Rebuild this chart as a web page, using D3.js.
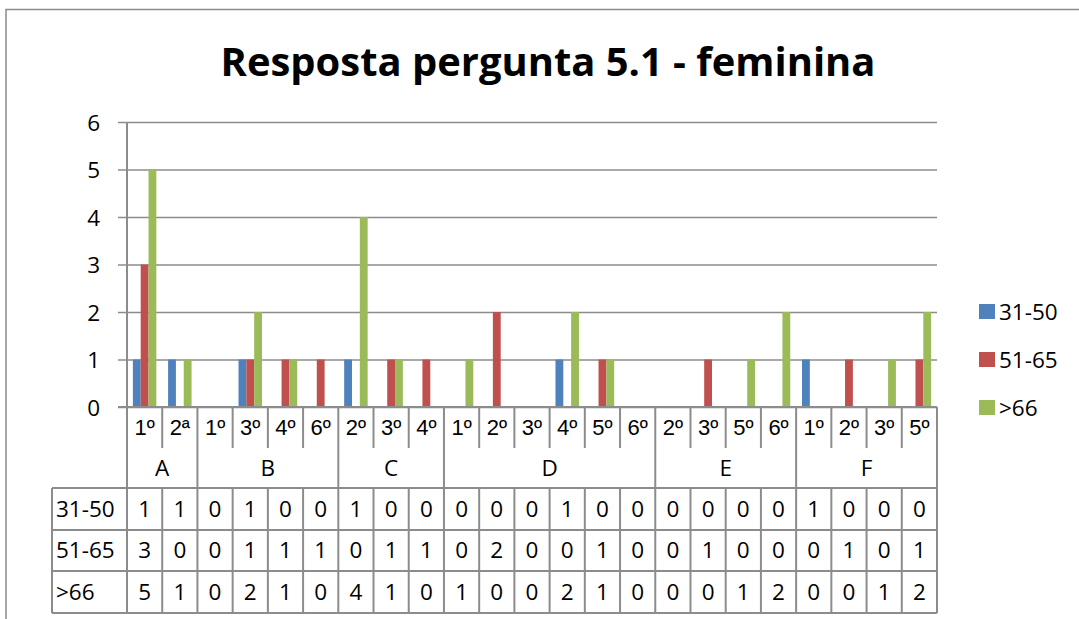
<!DOCTYPE html>
<html><head><meta charset="utf-8">
<script src="https://cdn.jsdelivr.net/npm/d3@7"></script>
<style>body{margin:0;background:#fff}svg{display:block}text{fill:#000}</style>
</head><body><svg id="c" width="1079" height="619" font-family="Open Sans, sans-serif"></svg>
<script>
const title = "Resposta pergunta 5.1 - feminina";
const categories = ["1º","2ª","1º","3º","4º","6º","2º","3º","4º","1º","2º","3º","4º","5º","6º","2º","3º","5º","6º","1º","2º","3º","5º"];
const groupOf = ["A","A","B","B","B","B","C","C","C","D","D","D","D","D","D","E","E","E","E","F","F","F","F"];
const seriesNames = ["31-50","51-65",">66"];
const s3150 = [1,1,0,1,0,0,1,0,0,0,0,0,1,0,0,0,0,0,0,1,0,0,0];
const s5165 = [3,0,0,1,1,1,0,1,1,0,2,0,0,1,0,0,1,0,0,0,1,0,1];
const s66   = [5,1,0,2,1,0,4,1,0,1,0,0,2,1,0,0,0,1,2,0,0,1,2];
const yTicks = [0,1,2,3,4,5,6];
const colors = ["#4F81BD","#C0504D","#9BBB59"];

const series = [s3150, s5165, s66];
const svg = d3.select("#c");
const L = 127, R = 937, T = 122, B = 407;
const lineCol = "#8c8c8c";
const fs = 22.5;

// chart border
svg.append("rect").attr("x",6).attr("y",9.5).attr("width",1200).attr("height",800)
  .attr("fill","none").attr("stroke","#8a8a8a").attr("stroke-width",1.5);

// title
const t = svg.append("text").attr("x",548).attr("y",76).attr("text-anchor","middle")
  .attr("font-weight","bold").attr("font-size",40).text(title);
const tw = t.node().getComputedTextLength();
t.attr("font-size", 40*655/tw);

const x = d3.scaleBand().domain(d3.range(categories.length)).range([L,R]).paddingInner(0).paddingOuter(0);
const xs = d3.scaleBand().domain(d3.range(seriesNames.length)).range([0,x.bandwidth()]).paddingInner(0).paddingOuter(0.75);
const y = d3.scaleLinear().domain([0,6]).range([B,T]);

// gridlines + y labels
const ya = d3.axisLeft(y).tickValues(yTicks).tickSize(-(R-118)).tickPadding(18).tickFormat(d3.format("d"));
const gy = svg.append("g").attr("transform","translate(118,0)").call(ya);
gy.attr("font-family",null).attr("font-size",null);
gy.select(".domain").remove();
gy.selectAll(".tick line").attr("stroke",lineCol).attr("stroke-width",1.5);
gy.selectAll(".tick text").attr("font-size",fs).attr("fill","#000").attr("dy","0.36em");

// bars
series.forEach((vals,si)=>{
  svg.append("g").selectAll("rect").data(vals).join("rect")
    .attr("x",(d,i)=>x(i)+xs(si)).attr("width",xs.bandwidth())
    .attr("y",d=>y(d)).attr("height",d=>y(0)-y(d)).attr("fill",colors[si]);
});

// table grid
const tg = svg.append("g").attr("stroke",lineCol).attr("stroke-width",2).attr("fill","none");
const rowSub = 448, rowGrp = 488, rows = [488,530,571,613], tabL = 52;
tg.append("line").attr("x1",L).attr("x2",L).attr("y1",T).attr("y2",613);
tg.append("line").attr("x1",R).attr("x2",R).attr("y1",B).attr("y2",613);
rows.forEach(r=>tg.append("line").attr("x1",tabL).attr("x2",R).attr("y1",r).attr("y2",r));
tg.append("line").attr("x1",tabL).attr("x2",tabL).attr("y1",rows[0]).attr("y2",613);
for(let i=1;i<categories.length;i++){
  const xx = x(i);
  const isGroup = groupOf[i]!==groupOf[i-1];
  tg.append("line").attr("x1",xx).attr("x2",xx).attr("y1",B).attr("y2",isGroup?613:rowSub);
  if(!isGroup) tg.append("line").attr("x1",xx).attr("x2",xx).attr("y1",rowGrp).attr("y2",613);
}
svg.append("line").attr("x1",118).attr("x2",R).attr("y1",B).attr("y2",B).attr("stroke",lineCol).attr("stroke-width",2);

// category labels
svg.append("g").attr("font-family","Liberation Sans, Arial, sans-serif").selectAll("text").data(categories).join("text")
  .attr("x",(d,i)=>x(i)+x.bandwidth()/2).attr("y",435).attr("text-anchor","middle")
  .attr("font-size",22).text(d=>d);
// group labels
const groups = Array.from(new Set(groupOf));
groups.forEach(g=>{
  const idx = groupOf.map((v,i)=>v===g?i:-1).filter(i=>i>=0);
  const x0 = x(idx[0]), x1 = x(idx[idx.length-1])+x.bandwidth();
  svg.append("text").attr("x",(x0+x1)/2).attr("y",476).attr("text-anchor","middle").attr("font-size",fs).text(g);
});
// data rows
const rowBase = [517,558,600];
series.forEach((vals,si)=>{
  svg.append("text").attr("x",56).attr("y",rowBase[si]).attr("font-size",fs).text(seriesNames[si]);
  svg.append("g").selectAll("text").data(vals).join("text")
    .attr("x",(d,i)=>x(i)+x.bandwidth()/2).attr("y",rowBase[si]).attr("text-anchor","middle")
    .attr("font-size",fs).text(d=>d);
});

// legend
const lg = svg.append("g");
seriesNames.forEach((n,i)=>{
  const yy = 304 + i*48;
  lg.append("rect").attr("x",979).attr("y",yy).attr("width",16).attr("height",15).attr("fill",colors[i]);
  lg.append("text").attr("x",999).attr("y",yy+16).attr("font-size",fs).text(n);
});
</script></body></html>
